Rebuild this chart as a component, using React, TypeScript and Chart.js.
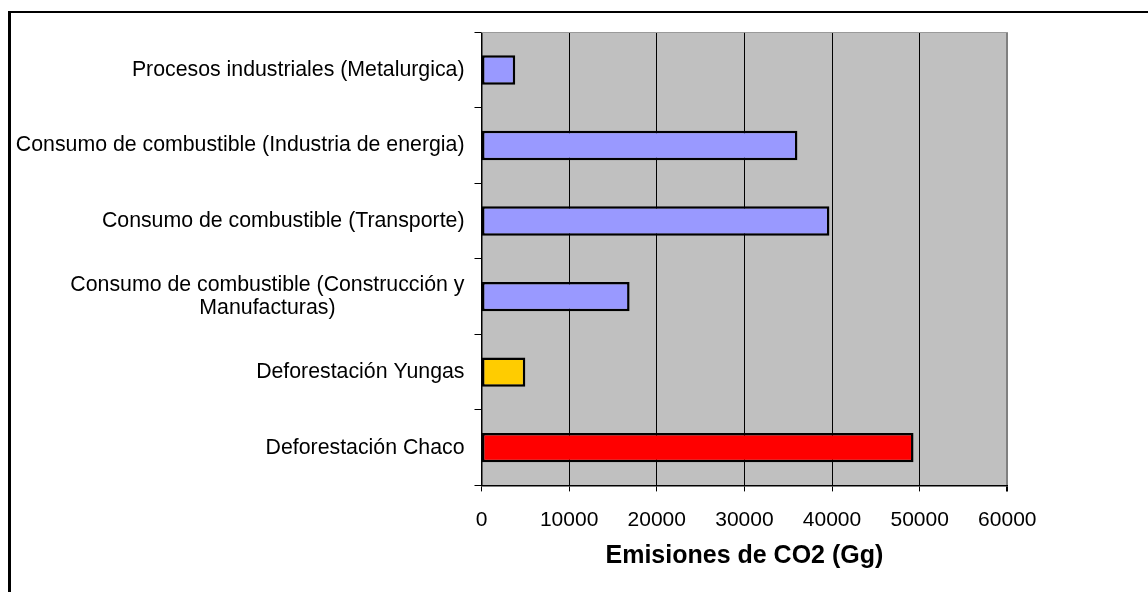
import React, { useEffect, useRef } from "react";
import { Chart, registerables } from "chart.js";

Chart.register(...registerables);

const categories: (string | string[])[] = [
  "Procesos industriales (Metalurgica)",
  "Consumo de combustible (Industria de energia)",
  "Consumo de combustible (Transporte)",
  ["Consumo de combustible (Construcción y", "Manufacturas)"],
  "Deforestación Yungas",
  "Deforestación Chaco",
];
const emissions = [3850, 36050, 39700, 16900, 5000, 49300];
const barColors = ["#9999FF", "#9999FF", "#9999FF", "#9999FF", "#FFCC00", "#FF0000"];
const xMin = 0;
const xMax = 60000;
const xStep = 10000;
const xTitle = "Emisiones de CO2 (Gg)";

const FONT = '"Liberation Sans", Arial, sans-serif';

const decorPlugin = {
  id: "decor",
  beforeDraw(chart: any) {
    const { ctx, chartArea: a } = chart;
    ctx.save();
    ctx.fillStyle = "#ffffff";
    ctx.fillRect(0, 0, chart.width, chart.height);
    ctx.fillStyle = "#C0C0C0";
    ctx.fillRect(a.left, a.top, a.right - a.left, a.bottom - a.top);
    ctx.restore();
  },
  afterDraw(chart: any) {
    const { ctx, chartArea: a } = chart;
    const yScale = chart.scales.y;
    ctx.save();
    ctx.strokeStyle = "#9a9a9a";
    ctx.lineWidth = 1;
    ctx.beginPath();
    ctx.moveTo(a.left, Math.round(a.top) + 0.5);
    ctx.lineTo(a.right, Math.round(a.top) + 0.5);
    ctx.stroke();
    ctx.fillStyle = "#000";
    ctx.font = `21.3px ${FONT}`;
    ctx.textAlign = "center";
    ctx.textBaseline = "middle";
    const rightEdge = a.left - 17;
    const lineH = 23;
    categories.forEach((lab, i) => {
      const lines = Array.isArray(lab) ? lab : [lab];
      const w = Math.max(...lines.map((l) => ctx.measureText(l).width));
      const cx = rightEdge - w / 2;
      const cy = yScale.getPixelForValue(i);
      lines.forEach((l, j) => {
        ctx.fillText(l, cx, cy + (j - (lines.length - 1) / 2) * lineH);
      });
    });
    ctx.fillStyle = "#000";
    ctx.fillRect(8, 11, chart.width, 2);
    ctx.fillRect(8, 11, 3, chart.height);
    ctx.restore();
  },
};

export default function App() {
  const ref = useRef<HTMLCanvasElement | null>(null);
  useEffect(() => {
    document.body.style.margin = "0";
    const canvas = ref.current!;
    const chart = new Chart(canvas, {
      type: "bar",
      data: {
        labels: categories as any,
        datasets: [
          {
            data: emissions,
            backgroundColor: barColors,
            borderColor: "#000",
            borderWidth: 2.5,
            borderSkipped: false,
            barPercentage: 0.39,
            categoryPercentage: 1,
          },
        ],
      },
      options: {
        indexAxis: "y",
        animation: false,
        responsive: false,
        devicePixelRatio: 1,
        layout: { padding: { left: 474.5, right: 140.7, top: 32.3, bottom: 21 } },
        plugins: { legend: { display: false }, tooltip: { enabled: false }, title: { display: false } },
        scales: {
          x: {
            type: "linear",
            position: "bottom",
            min: xMin,
            max: xMax,
            ticks: {
              stepSize: xStep,
              color: "#000",
              font: { family: FONT, size: 21 },
              padding: 16.5,
              maxRotation: 0,
              callback: (v: any) => String(v),
            },
            grid: {
              color: (c: any) => (c.index === 6 ? "#808080" : "#000"),
              lineWidth: (c: any) => (c.index === 6 ? 2 : 1),
              tickColor: "#000",
              tickLength: 6,
              drawTicks: true,
            },
            border: { color: "#000", width: 1.5 },
            title: {
              display: true,
              text: xTitle,
              color: "#000",
              font: { family: FONT, size: 25, weight: "bold" },
              padding: { top: -8.6, bottom: 0 },
            },
          },
          y: {
            type: "category",
            position: "left",
            offset: true,
            ticks: { display: false },
            grid: {
              drawOnChartArea: false,
              drawTicks: true,
              tickLength: 7,
              color: "#000",
              offset: true,
            },
            border: { color: "#000", width: 1.5 },
          },
        },
      },
      plugins: [decorPlugin],
    } as any);
    return () => chart.destroy();
  }, []);
  return (
    <div style={{ position: "fixed", left: 0, top: 0, width: 1148, height: 592 }}>
      <canvas ref={ref} width={1148} height={592} style={{ display: "block" }} />
    </div>
  );
}
